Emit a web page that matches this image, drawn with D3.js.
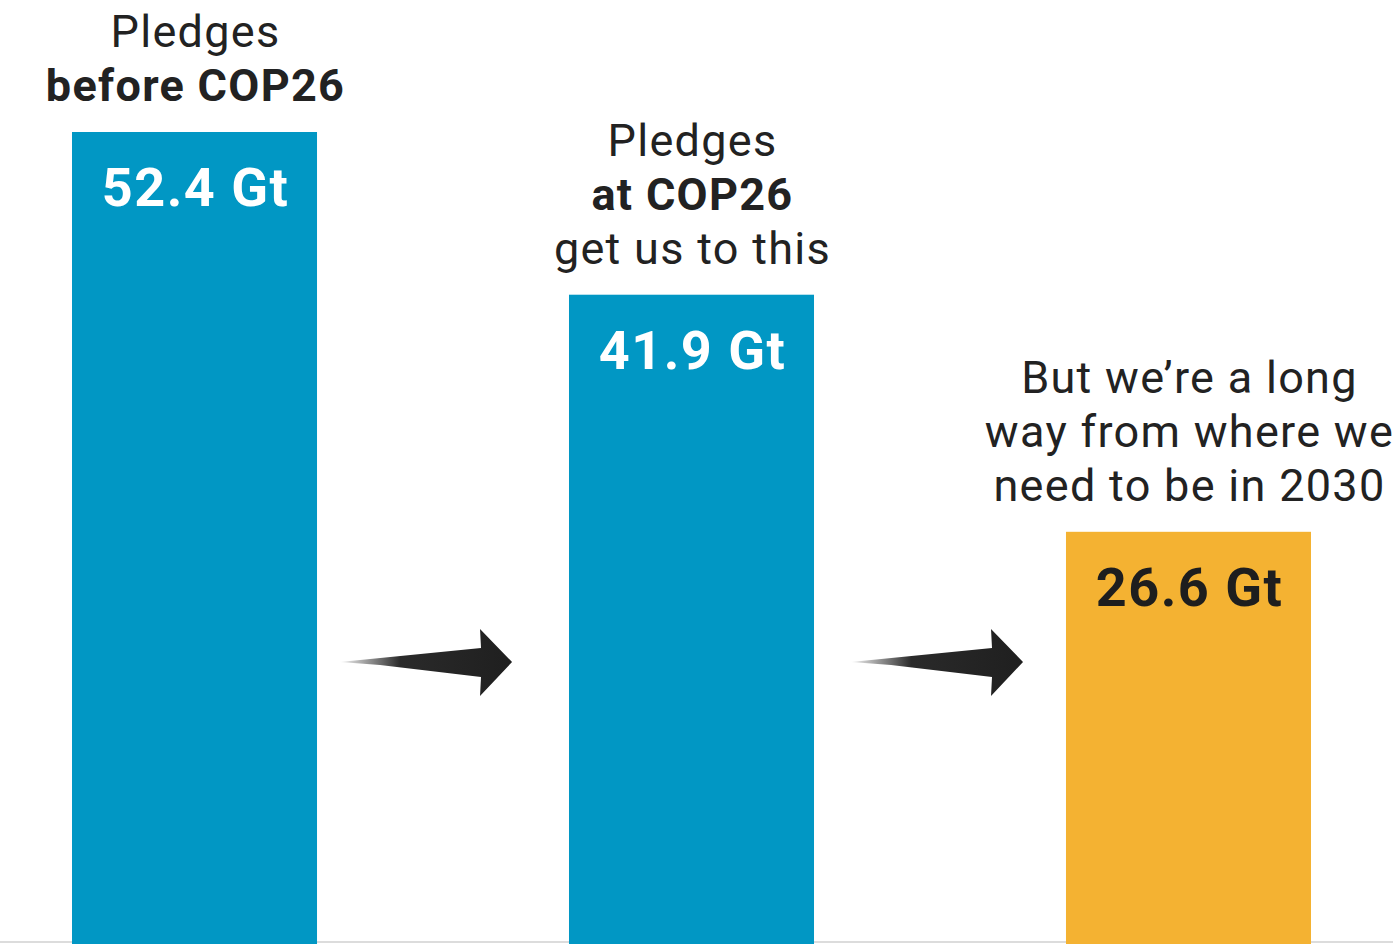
<!DOCTYPE html>
<html>
<head>
<meta charset="utf-8">
<script src="https://cdn.jsdelivr.net/npm/d3@7"></script>
<style>
  html, body { margin: 0; padding: 0; background: #fff; }
  svg { display: block; }
  text { font-family: Roboto, "Open Sans", sans-serif; }
</style>
</head>
<body>
<svg id="chart" width="1393" height="944"></svg>
<script>
// chart data
const categories = ["before", "at", "needed"];
const values = [52.4, 41.9, 26.6];
const valueLabels = ["52.4 Gt", "41.9 Gt", "26.6 Gt"];
const barColors = ["#0197c4", "#0197c4", "#f4b232"];
const valueColors = ["#ffffff", "#ffffff", "#1e1e1e"];
// heading lines above each bar, [text, bold]
const headings = [
  [["Pledges", false], ["before COP26", true]],
  [["Pledges", false], ["at COP26", true], ["get us to this", false]],
  [["But we\u2019re a long", false], ["way from where we", false], ["need to be in 2030", false]]
];

const width = 1393, height = 944;
const svg = d3.select("#chart");

const x = d3.scaleBand()
  .domain(categories)
  .range([72, 1311])
  .paddingInner(0.507)
  .paddingOuter(0);

const y = d3.scaleLinear()
  .domain([0, 52.4])
  .range([944, 132]);

const lineH = 54;

// fade for the arrow tails
const grad = svg.append("defs").append("linearGradient")
  .attr("id", "tailFade")
  .attr("x1", "0").attr("x2", "1").attr("y1", "0").attr("y2", "0");
grad.append("stop").attr("offset", "0").attr("stop-color", "#1f1f1f").attr("stop-opacity", 0.05);
grad.append("stop").attr("offset", "0.35").attr("stop-color", "#1f1f1f").attr("stop-opacity", 0.95);
grad.append("stop").attr("offset", "1").attr("stop-color", "#1f1f1f").attr("stop-opacity", 1);

// baseline rule
svg.append("line")
  .attr("x1", 0).attr("x2", width)
  .attr("y1", 942).attr("y2", 942)
  .attr("stroke", "#dcdcdc")
  .attr("stroke-width", 2);

svg.selectAll("rect.bar")
  .data(categories)
  .join("rect")
  .attr("class", "bar")
  .attr("x", d => x(d))
  .attr("y", (d, i) => y(values[i]))
  .attr("width", x.bandwidth())
  .attr("height", (d, i) => y(0) - y(values[i]))
  .attr("fill", (d, i) => barColors[i]);

svg.selectAll("text.value")
  .data(categories)
  .join("text")
  .attr("class", "value")
  .attr("x", d => x(d) + x.bandwidth() / 2 + 1)
  .attr("y", (d, i) => y(values[i]) + 74)
  .attr("text-anchor", "middle")
  .attr("font-size", 54)
  .attr("font-weight", 700)
  .attr("letter-spacing", 1.5)
  .attr("fill", (d, i) => valueColors[i])
  .text((d, i) => valueLabels[i]);

// headings, one text per bar with a tspan per line
categories.forEach((c, i) => {
  const lines = headings[i];
  const cx = x(c) + x.bandwidth() / 2 + 1;
  const first = y(values[i]) - 31 - (lines.length - 1) * lineH;
  svg.append("text")
    .attr("class", "heading")
    .attr("x", cx)
    .attr("y", first)
    .attr("text-anchor", "middle")
    .attr("font-size", 45)
    .attr("letter-spacing", 1.3)
    .attr("fill", "#222")
    .selectAll("tspan")
    .data(lines)
    .join("tspan")
    .attr("x", cx)
    .attr("dy", (d, j) => j === 0 ? 0 : lineH)
    .attr("font-weight", d => d[1] ? 700 : 400)
    .text(d => d[0]);
});

// arrows between bars
const arrowY = 662, arrowLen = 172;
const arrowGap = [23, 37];
const arrowPath = (x0) => {
  const p = d3.path();
  p.moveTo(x0, arrowY);
  p.lineTo(x0 + 141, arrowY - 14);
  p.lineTo(x0 + 140, arrowY - 33);
  p.lineTo(x0 + arrowLen, arrowY);
  p.lineTo(x0 + 140, arrowY + 34);
  p.lineTo(x0 + 141, arrowY + 15);
  p.lineTo(x0 + 40, arrowY + 3);
  p.closePath();
  return p.toString();
};

svg.selectAll("path.arrow")
  .data(categories.slice(0, -1))
  .join("path")
  .attr("class", "arrow")
  .attr("d", (d, i) => arrowPath(x(d) + x.bandwidth() + arrowGap[i]))
  .attr("fill", "url(#tailFade)");
</script>
</body>
</html>
